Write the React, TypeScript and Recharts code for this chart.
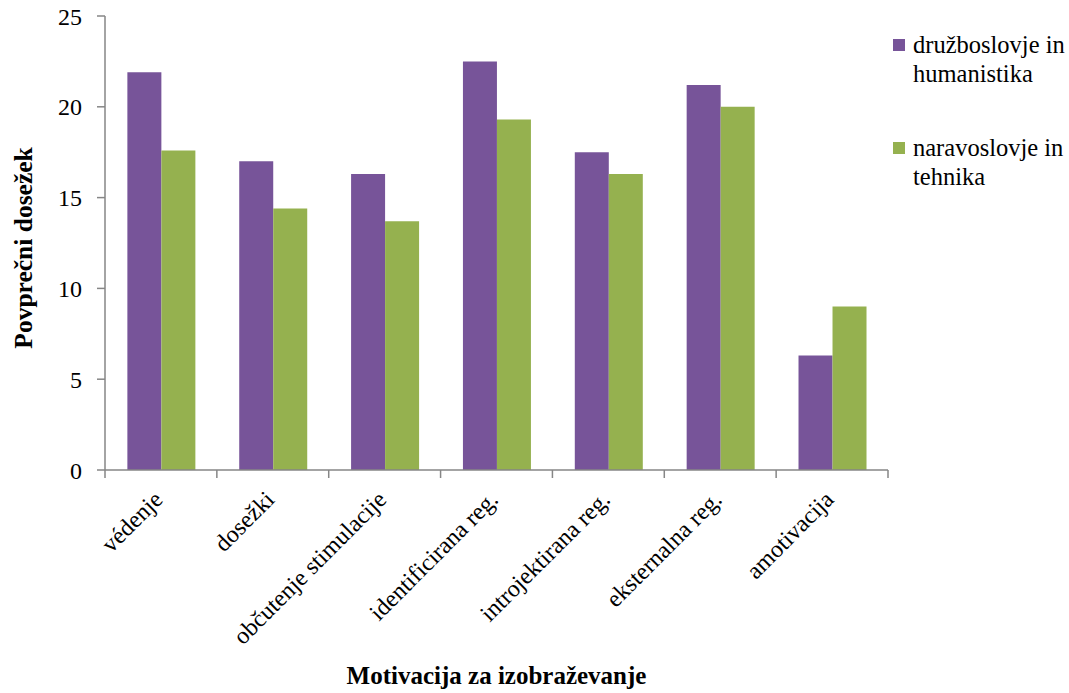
import { BarChart, Bar, XAxis, YAxis, Legend, Label } from 'recharts';

const FONT = "'Liberation Serif', 'Times New Roman', serif";
const AXIS_GRAY = '#868686';
const TICK_MARGIN = 12;

const categories = [
  'védenje',
  'dosežki',
  'občutenje stimulacije',
  'identificirana reg.',
  'introjektirana reg.',
  'eksternalna reg.',
  'amotivacija',
];
const druzboslovje = [21.9, 17.0, 16.3, 22.5, 17.5, 21.2, 6.3];
const naravoslovje = [17.6, 14.4, 13.7, 19.3, 16.3, 20.0, 9.0];
const yTicks = [0, 5, 10, 15, 20, 25];

const data = categories.map((name, i) => ({
  name,
  druzboslovje: druzboslovje[i],
  naravoslovje: naravoslovje[i],
}));

// category label plus tick marks on the band edges (not the band centre)
function CategoryTick({ x, y, payload, index }: any) {
  const half = payload?.offset ?? 0;
  const axisY = y - TICK_MARGIN;
  const tx = x - 9;
  const ty = y + 7;
  return (
    <g>
      {half > 0 && (
        <line x1={x - half} x2={x - half} y1={axisY} y2={axisY + 8} stroke={AXIS_GRAY} strokeWidth={1.5} />
      )}
      {half > 0 && index === categories.length - 1 && (
        <line x1={x + half} x2={x + half} y1={axisY} y2={axisY + 8} stroke={AXIS_GRAY} strokeWidth={1.5} />
      )}
      <text
        x={tx}
        y={ty}
        dy="0.71em"
        transform={`rotate(-45 ${tx} ${ty})`}
        textAnchor="end"
        fontFamily={FONT}
        fontSize={24}
        fill="#000"
      >
        {payload.value}
      </text>
    </g>
  );
}

const legendText = {
  fontFamily: FONT,
  fontSize: '24.5px',
  lineHeight: '29px',
  color: '#000',
  width: 160,
};

// square marker + series name wrapped onto two lines
function LegendList({ payload }: any) {
  return (
    <div style={{ fontFamily: FONT }}>
      {(payload || []).map((entry: any) => (
        <div key={entry.value} style={{ display: 'flex', alignItems: 'flex-start', marginBottom: 45 }}>
          <span
            style={{
              width: 12,
              height: 12,
              background: entry.color,
              marginTop: 9,
              marginRight: 8,
              flexShrink: 0,
            }}
          />
          <span style={legendText}>{entry.value}</span>
        </div>
      ))}
    </div>
  );
}

function YTitle({ viewBox }: any) {
  const cx = viewBox.x + 23;
  const cy = viewBox.y + viewBox.height / 2 + 5;
  return (
    <text
      x={cx}
      y={cy}
      transform={`rotate(-90 ${cx} ${cy})`}
      textAnchor="middle"
      dominantBaseline="central"
      fontFamily={FONT}
      fontSize={25.5}
      fontWeight="bold"
      fill="#000"
    >
      Povprečni dosežek
    </text>
  );
}

export default function App() {
  return (
    <div style={{ position: 'absolute', left: 0, top: 0, background: '#fff', fontFamily: FONT }}>
      <BarChart
        width={1069}
        height={693}
        data={data}
        margin={{ top: 16, right: 181, left: 0, bottom: 0 }}
        barCategoryGap="20%"
        barGap={0}
      >
        <XAxis
          dataKey="name"
          height={223}
          interval={0}
          axisLine={{ stroke: AXIS_GRAY, strokeWidth: 1.5 }}
          tickLine={false}
          tickSize={0}
          tickMargin={TICK_MARGIN}
          tick={<CategoryTick />}
        >
          <Label
            value="Motivacija za izobraževanje"
            position="insideBottom"
            offset={9}
            style={{ fontFamily: FONT, fontSize: 25, fontWeight: 'bold', fill: '#000' }}
          />
        </XAxis>
        <YAxis
          width={105}
          domain={[0, 25]}
          ticks={yTicks}
          interval={0}
          tickSize={8}
          tickMargin={15}
          axisLine={{ stroke: AXIS_GRAY, strokeWidth: 1.5 }}
          tickLine={{ stroke: AXIS_GRAY, strokeWidth: 1.5 }}
          tick={{ fontFamily: FONT, fontSize: 24, fill: '#000' }}
        >
          <Label content={YTitle} />
        </YAxis>
        <Legend
          layout="vertical"
          align="center"
          verticalAlign="middle"
          content={LegendList}
          wrapperStyle={{ left: 893, top: 30, width: 176, fontFamily: FONT }}
        />
        <Bar
          dataKey="druzboslovje"
          name="družboslovje in humanistika"
          fill="#775499"
          isAnimationActive={false}
        />
        <Bar
          dataKey="naravoslovje"
          name="naravoslovje in tehnika"
          fill="#95B14F"
          isAnimationActive={false}
        />
      </BarChart>
    </div>
  );
}
